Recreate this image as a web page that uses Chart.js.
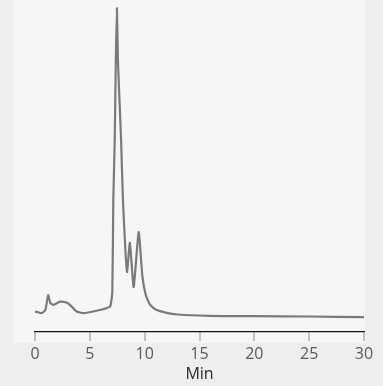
<!DOCTYPE html>
<html>
<head>
<meta charset="utf-8">
<script src="https://cdn.jsdelivr.net/npm/chart.js@4"></script>
<style>
  html, body { margin: 0; padding: 0; background: #eeeeee; }
  #wrap { width: 383px; height: 386px; position: relative; }
</style>
</head>
<body>
<div id="wrap"><canvas id="c" width="383" height="386"></canvas></div>
<script>
// Retention time (min)
const times = [0, 0.15, 0.6, 0.95, 1.2, 1.4, 1.7, 2.28, 2.9, 3.35, 3.8, 4.4, 5.3, 6.2, 6.85, 7.05, 7.14, 7.27, 7.37, 7.47, 7.56, 7.85, 8.02, 8.39, 8.65, 9.0, 9.45, 9.8, 10.1, 10.5, 11.0, 12, 13, 15, 17, 20, 25, 30];
// Detector response (relative %)
const signal = [6.1, 6.1, 5.7, 6.7, 11.2, 8.8, 8.2, 9.2, 8.9, 7.7, 6.2, 5.7, 6.2, 6.9, 7.7, 12.1, 40.0, 58.2, 82.4, 98.2, 82.4, 58.2, 40.0, 18.2, 27.0, 13.6, 30.3, 16.7, 11.2, 8.2, 6.8, 5.8, 5.3, 5.0, 4.8, 4.8, 4.7, 4.5];
const xTicks = [0, 5, 10, 15, 20, 25, 30];
const xTitle = "Min";

const points = times.map((t, i) => ({ x: t, y: signal[i] }));

const bgPlugin = {
  id: 'plotBg',
  beforeDraw(chart) {
    const { ctx, chartArea: a } = chart;
    ctx.save();
    ctx.fillStyle = '#f6f6f6';
    ctx.fillRect(a.left - 21, 0, a.right - a.left + 22, a.bottom + 11);
    ctx.restore();
  }
};

new Chart(document.getElementById('c'), {
  type: 'line',
  data: {
    datasets: [{
      data: points,
      borderColor: '#7a7a7a',
      borderWidth: 2.2,
      borderJoinStyle: 'round',
      pointRadius: 0,
      fill: false,
      tension: 0.15
    }]
  },
  options: {
    responsive: false,
    animation: false,
    devicePixelRatio: 1,
    layout: { padding: { left: 35, right: 19, top: 2, bottom: 0 } },
    plugins: { legend: { display: false }, tooltip: { enabled: false } },
    scales: {
      x: {
        type: 'linear',
        min: 0, max: 30,
        afterBuildTicks: (s) => { s.ticks = xTicks.map(v => ({ value: v })); },
        afterFit: (s) => { s.height = 54; },
        border: { display: true, color: '#111', width: 1.3 },
        grid: { display: true, drawOnChartArea: false, drawTicks: true, tickLength: 9, color: 'rgba(150,150,150,0.55)', lineWidth: 2 },
        ticks: { padding: 4, color: '#5a5a5a', font: { family: 'Open Sans', size: 16 }, maxRotation: 0 },
        title: { display: true, text: xTitle, color: '#2a2a2a', font: { family: 'Open Sans', size: 16 }, padding: { top: 0, bottom: 1.5 } }
      },
      y: {
        display: false,
        min: 0, max: 100
      }
    }
  },
  plugins: [bgPlugin]
});
</script>
</body>
</html>
